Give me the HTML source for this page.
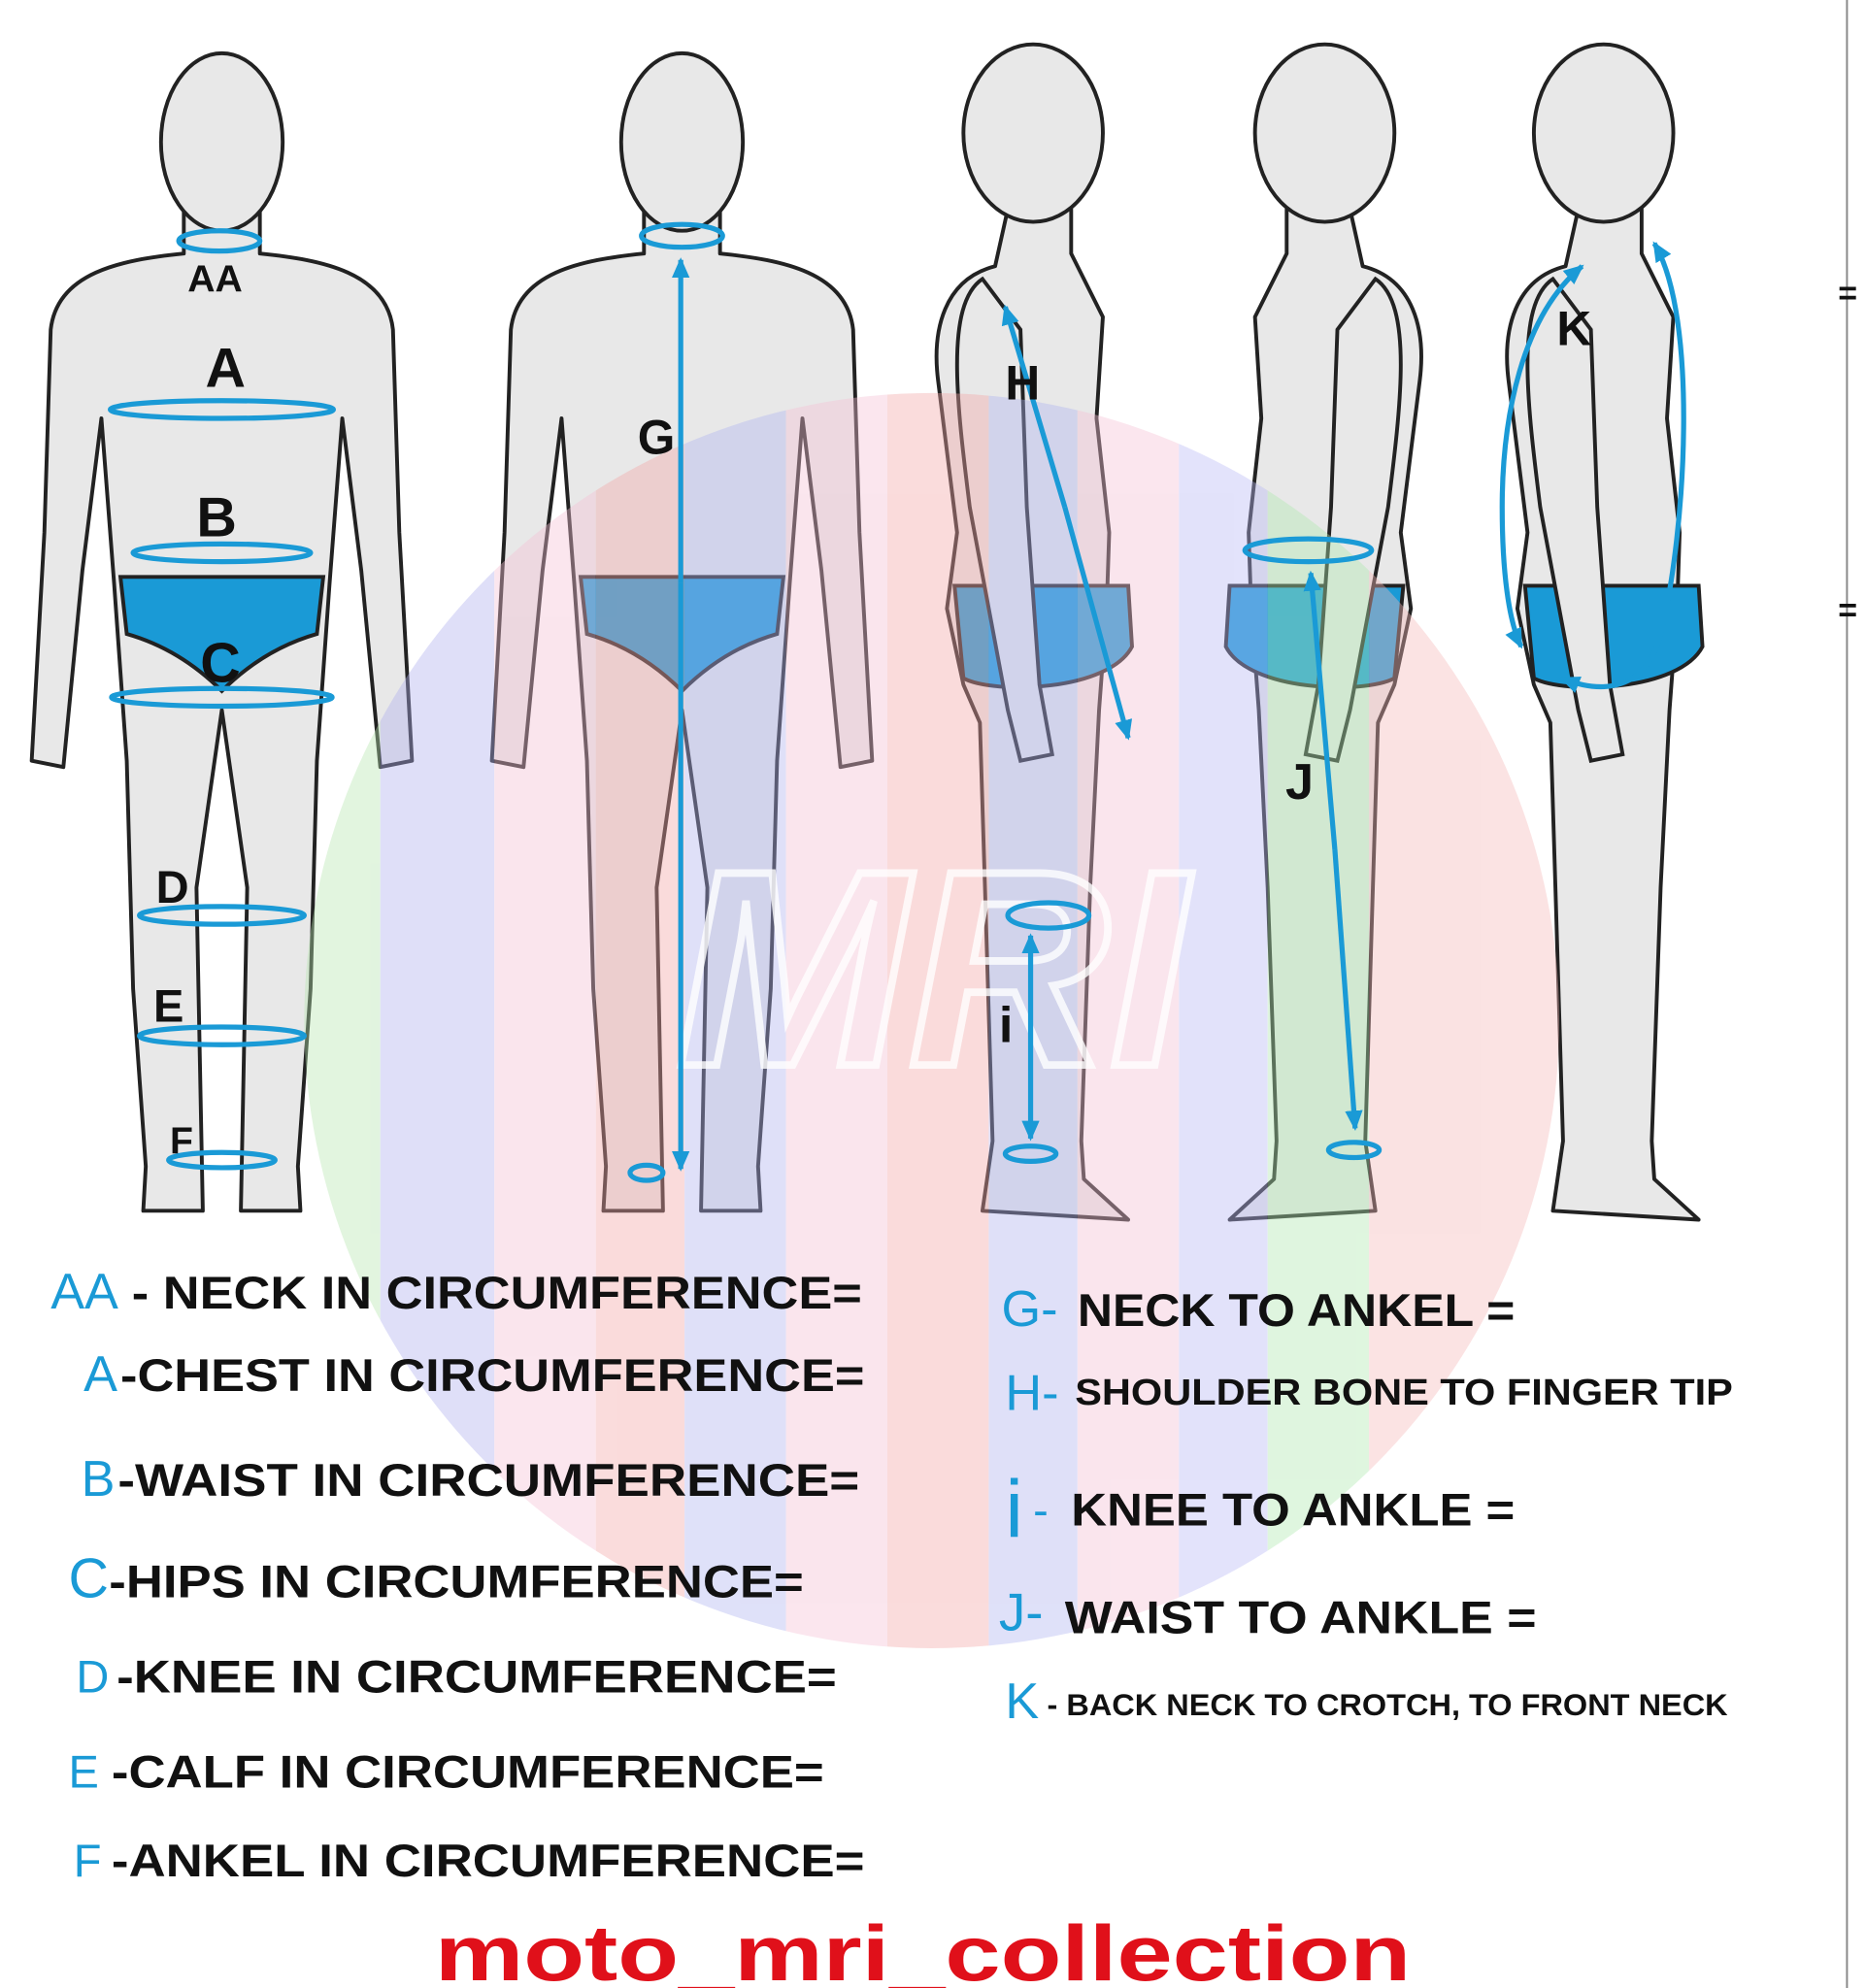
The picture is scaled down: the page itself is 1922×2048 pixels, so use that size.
<!DOCTYPE html>
<html><head><meta charset="utf-8"><style>
html,body{margin:0;padding:0;background:#fff}
svg{display:block}
text{font-family:"Liberation Sans",Arial,sans-serif;font-weight:bold}
.b{fill:#1a9ad6;font-weight:normal}
.k{fill:#111}
</style></head><body>
<svg width="1922" height="2048" viewBox="0 0 1472 1568" preserveAspectRatio="none" xmlns="http://www.w3.org/2000/svg">
<defs>
<g id="front">
<path d="M-30,165 L-30,200 C-80,205 -130,215 -135,260 L-140,420 L-150,600 L-125,605 L-110,450 L-95,330 L-85,460 L-75,600 L-70,780 L-60,920 L-62,955 L-15,955 L-20,700 L0,560 L20,700 L15,955 L62,955 L60,920 L70,780 L75,600 L85,460 L95,330 L110,450 L125,605 L150,600 L140,420 L135,260 C130,215 80,205 30,200 L30,165 Z" fill="#e8e8e8" stroke="#222" stroke-width="3" stroke-linejoin="round"/>
<ellipse cx="0" cy="112" rx="48" ry="70" fill="#e8e8e8" stroke="#222" stroke-width="3"/>
<path d="M-80,455 L80,455 L75,500 C40,510 15,530 0,545 C-15,530 -40,510 -75,500 Z" fill="#1a9ad6" stroke="#222" stroke-width="3"/>
</g>
<g id="side">
<path d="M-20,165 L-30,210 C-70,220 -80,260 -75,300 L-60,420 L-68,480 L-55,540 L-42,570 L-38,700 L-32,900 L-40,955 L75,962 L40,930 L38,900 L45,700 L52,560 L58,480 L60,420 L50,330 L55,250 L30,200 L30,165 Z" fill="#e8e8e8" stroke="#222" stroke-width="3" stroke-linejoin="round"/>
<path d="M-62,462 L75,462 L78,510 C60,545 -30,548 -55,535 Z" fill="#1a9ad6" stroke="#222" stroke-width="3"/>
<path d="M-40,220 C-70,240 -60,320 -50,400 L-20,560 L-10,600 L15,595 L5,540 L-5,400 L-10,260 Z" fill="#e8e8e8" stroke="#222" stroke-width="3"/>
<ellipse cx="0" cy="105" rx="55" ry="70" fill="#e8e8e8" stroke="#222" stroke-width="3"/>
</g>
<clipPath id="cc"><circle cx="735" cy="805" r="495"/></clipPath>
<marker id="ar" markerWidth="16" markerHeight="14" refX="14" refY="7" orient="auto-start-reverse" markerUnits="userSpaceOnUse"><path d="M0,0 L16,7 L0,14 Z" fill="#1a9ad6"/></marker>
</defs>
<rect width="1472" height="1568" fill="#fff"/>
<line x1="1457" y1="0" x2="1457" y2="1568" stroke="#888" stroke-width="1.5"/>
<text x="1450" y="240" font-size="26" class="k">=</text>
<text x="1450" y="490" font-size="26" class="k">=</text>

<use href="#front" x="175" y="0"/>
<use href="#front" x="538" y="0"/>
<use href="#side" x="815" y="0"/>
<g transform="translate(1045,0) scale(-1,1)"><use href="#side"/></g>
<use href="#side" x="1265" y="0"/>

<g clip-path="url(#cc)" opacity="0.4">
<rect x="230" y="300" width="70" height="1010" fill="#b6e6b0"/>
<rect x="300" y="300" width="90" height="1010" fill="#b0b0ee"/>
<rect x="390" y="300" width="80" height="1010" fill="#f4c0d4"/>
<rect x="470" y="300" width="70" height="1010" fill="#f3a8a8"/>
<rect x="540" y="300" width="80" height="1010" fill="#b0b4f0"/>
<rect x="620" y="300" width="80" height="1010" fill="#f4c0d4"/>
<rect x="700" y="300" width="80" height="1010" fill="#f3a8a8"/>
<rect x="780" y="300" width="70" height="1010" fill="#b0b4f0"/>
<rect x="850" y="300" width="80" height="1010" fill="#f4c0d4"/>
<rect x="930" y="300" width="70" height="1010" fill="#b8b8f4"/>
<rect x="1000" y="300" width="80" height="1010" fill="#b0e8b0"/>
<rect x="1080" y="300" width="160" height="1010" fill="#f4b8b8"/>
</g>
<text x="735" y="840" font-size="220" font-style="italic" fill="none" stroke="#fff" stroke-width="6" text-anchor="middle" opacity="0.8">MRI</text>

<g fill="none" stroke="#1a9ad6" stroke-width="4">
<ellipse cx="173" cy="190" rx="32" ry="8"/>
<ellipse cx="175" cy="323" rx="88" ry="7"/>
<ellipse cx="175" cy="436" rx="70" ry="7"/>
<ellipse cx="175" cy="550" rx="87" ry="7"/>
<ellipse cx="175" cy="722" rx="65" ry="7"/>
<ellipse cx="175" cy="817" rx="65" ry="7"/>
<ellipse cx="175" cy="915" rx="42" ry="6"/>
<ellipse cx="538" cy="186" rx="32" ry="9"/>
<ellipse cx="510" cy="925" rx="13" ry="6"/>
<ellipse cx="827" cy="722" rx="32" ry="10"/>
<ellipse cx="813" cy="910" rx="20" ry="6"/>
<ellipse cx="1032" cy="434" rx="50" ry="9"/>
<ellipse cx="1068" cy="907" rx="20" ry="6"/>
<line x1="537" y1="460" x2="537" y2="205" marker-end="url(#ar)"/>
<line x1="537" y1="460" x2="537" y2="922" marker-end="url(#ar)"/>
<line x1="840" y1="400" x2="793" y2="242" marker-end="url(#ar)"/>
<line x1="840" y1="400" x2="890" y2="582" marker-end="url(#ar)"/>
<line x1="813" y1="815" x2="813" y2="738" marker-end="url(#ar)"/>
<line x1="813" y1="815" x2="813" y2="898" marker-end="url(#ar)"/>
<line x1="1053" y1="670" x2="1034" y2="452" marker-end="url(#ar)"/>
<line x1="1053" y1="670" x2="1069" y2="890" marker-end="url(#ar)"/>
<path d="M1305,192 C1340,250 1330,420 1310,500 C1300,540 1270,550 1232,535" marker-start="url(#ar)" marker-end="url(#ar)"/>
<path d="M1248,210 C1200,250 1185,330 1185,400 C1185,450 1190,490 1200,510" marker-start="url(#ar)" marker-end="url(#ar)"/>
</g>

<g class="k">
<text x="148" y="230" font-size="30" font-weight="normal">AA</text>
<text x="162" y="305" font-size="44" font-weight="normal">A</text>
<text x="155" y="423" font-size="44" font-weight="normal">B</text>
<text x="158" y="538" font-size="44" font-weight="normal">C</text>
<text x="123" y="712" font-size="36">D</text>
<text x="121" y="806" font-size="36">E</text>
<text x="134" y="910" font-size="30">F</text>
<text x="503" y="358" font-size="38">G</text>
<text x="793" y="315" font-size="38">H</text>
<text x="788" y="822" font-size="40">i</text>
<text x="1014" y="630" font-size="40">J</text>
<text x="1228" y="272" font-size="38">K</text>
</g>

<g font-size="36">
<text x="40" y="1032" font-size="40" class="b">AA</text><text x="104" y="1032" class="k" textLength="576" lengthAdjust="spacingAndGlyphs">- NECK IN CIRCUMFERENCE=</text>
<text x="66" y="1097" font-size="40" class="b">A</text><text x="95" y="1097" class="k" textLength="587" lengthAdjust="spacingAndGlyphs">-CHEST IN CIRCUMFERENCE=</text>
<text x="64" y="1180" font-size="40" class="b">B</text><text x="93" y="1180" class="k" textLength="585" lengthAdjust="spacingAndGlyphs">-WAIST IN CIRCUMFERENCE=</text>
<text x="54" y="1260" font-size="44" class="b">C</text><text x="86" y="1260" class="k" textLength="548" lengthAdjust="spacingAndGlyphs">-HIPS IN CIRCUMFERENCE=</text>
<text x="60" y="1335" class="b">D</text><text x="92" y="1335" class="k" textLength="568" lengthAdjust="spacingAndGlyphs">-KNEE IN CIRCUMFERENCE=</text>
<text x="54" y="1410" class="b">E</text><text x="88" y="1410" class="k" textLength="562" lengthAdjust="spacingAndGlyphs">-CALF IN CIRCUMFERENCE=</text>
<text x="58" y="1480" class="b">F</text><text x="88" y="1480" class="k" textLength="594" lengthAdjust="spacingAndGlyphs">-ANKEL IN CIRCUMFERENCE=</text>
<text x="790" y="1046" font-size="40" class="b">G-</text><text x="850" y="1046" class="k" textLength="345" lengthAdjust="spacingAndGlyphs">NECK TO ANKEL =</text>
<text x="793" y="1112" font-size="40" class="b">H-</text><text x="848" y="1108" class="k" font-size="29" textLength="519" lengthAdjust="spacingAndGlyphs">SHOULDER BONE TO FINGER TIP</text>
<text x="793" y="1212" font-size="64" class="b" font-weight="bold">i</text><text x="815" y="1203" class="b">-</text><text x="845" y="1203" class="k" textLength="350" lengthAdjust="spacingAndGlyphs">KNEE TO ANKLE =</text>
<text x="788" y="1286" font-size="42" class="b">J-</text><text x="840" y="1288" class="k" textLength="372" lengthAdjust="spacingAndGlyphs">WAIST TO ANKLE =</text>
<text x="793" y="1355" font-size="40" class="b">K</text><text x="826" y="1353" class="k" font-size="24" textLength="537" lengthAdjust="spacingAndGlyphs">- BACK NECK TO CROTCH, TO FRONT NECK</text>
</g>
<text x="343" y="1562" font-size="62" fill="#e0101a" textLength="770" lengthAdjust="spacingAndGlyphs">moto_mri_collection</text>
</svg>
</body></html>
